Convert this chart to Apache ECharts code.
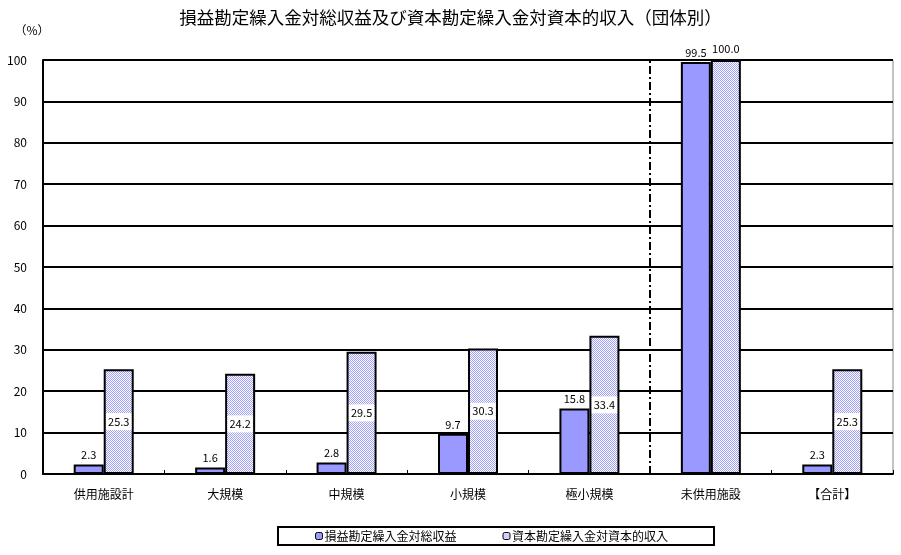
<!DOCTYPE html>
<html><head><meta charset="utf-8">
<script src="https://cdn.jsdelivr.net/npm/echarts@6/dist/echarts.min.js"></script>
<style>html,body{margin:0;padding:0;background:#fff}#c{width:901px;height:555px}</style>
</head><body><div id="c"></div>
<script>
const categories = ['供用施設計','大規模','中規模','小規模','極小規模','未供用施設','【合計】'];
const seriesNames = ['損益勘定繰入金対総収益','資本勘定繰入金対資本的収入'];
const revenueRatio = [2.3,1.6,2.8,9.7,15.8,99.5,2.3];
const capitalRatio = [25.3,24.2,29.5,30.3,33.4,100.0,25.3];
const yTicks = {min:0, max:100, interval:10};
const dividerAt = 5;

const pc = document.createElement('canvas');
pc.width = 2; pc.height = 2;
const g = pc.getContext('2d');
g.fillStyle = '#ffffff'; g.fillRect(0,0,2,2);
g.fillStyle = '#a0a0ff';
g.fillRect(0,0,1,1); g.fillRect(1,1,1,1);

const font = '"Noto Sans CJK JP", sans-serif';
const chart = echarts.init(document.getElementById('c'), null, {renderer:'canvas'});
chart.setOption({
  backgroundColor:'#fff',
  animation:false,
  textStyle:{fontFamily:font},
  title:{text:'損益勘定繰入金対総収益及び資本勘定繰入金対資本的収入（団体別）', left:'center', top:4,
    textStyle:{fontSize:17.5, fontWeight:'normal', color:'#000', fontFamily:font}},
  legend:{left:278, top:527, orient:'horizontal', padding:[3,46,3,37], itemGap:46,
    borderColor:'#000', borderWidth:2, itemWidth:7, itemHeight:7,
    textStyle:{fontSize:12, color:'#000', padding:[0,0,0,-3]},
    itemStyle:{borderColor:'#000', borderWidth:1},
    data:seriesNames},
  grid:{left:43, right:8, top:60, bottom:81, show:true, borderColor:'#888', borderWidth:1},
  xAxis:[{type:'category', data:categories,
    axisLine:{lineStyle:{color:'#000', width:2}},
    axisTick:{show:true, inside:true, length:4, lineStyle:{color:'#000'}},
    axisLabel:{fontSize:12, color:'#000', margin:14}},
   {type:'value', min:0, max:categories.length, show:false}],
  yAxis:{type:'value', min:yTicks.min, max:yTicks.max, interval:yTicks.interval,
    name:'（%）', nameLocation:'end', nameGap:24, nameTextStyle:{fontSize:12, color:'#000', padding:[0,0,0,-22]},
    axisLine:{show:true, lineStyle:{color:'#000', width:2}},
    axisTick:{show:false},
    axisLabel:{fontSize:12, color:'#000', margin:16},
    splitLine:{lineStyle:{color:'#000', width:2}}},
  series:[
    {name:seriesNames[0], type:'bar', data:revenueRatio, barWidth:30, barGap:'0%',
     itemStyle:{color:'#9999ff', borderColor:'#000', borderWidth:2},
     label:{show:true, position:'top', distance:4, fontSize:11, color:'#000', formatter:p=>p.value.toFixed(1)}},
    {name:seriesNames[1], type:'bar', data:capitalRatio.map((v,i)=> i===dividerAt ? {value:v, label:{position:'top', backgroundColor:'transparent', distance:3}} : v),
     barWidth:30, itemStyle:{color:{image:pc, repeat:'repeat'}, borderColor:'#000', borderWidth:2},
     label:{show:true, position:'inside', fontSize:11, color:'#000', backgroundColor:'#fff', padding:[3,2],
       formatter:p=>p.value.toFixed(1)}},
    {type:'line', xAxisIndex:1, data:[], silent:true,
     markLine:{symbol:'none', silent:true, label:{show:false},
       lineStyle:{color:'#000', width:2, type:[8,3,2,3]},
       data:[{xAxis:dividerAt}]}}
  ]
});
</script></body></html>
